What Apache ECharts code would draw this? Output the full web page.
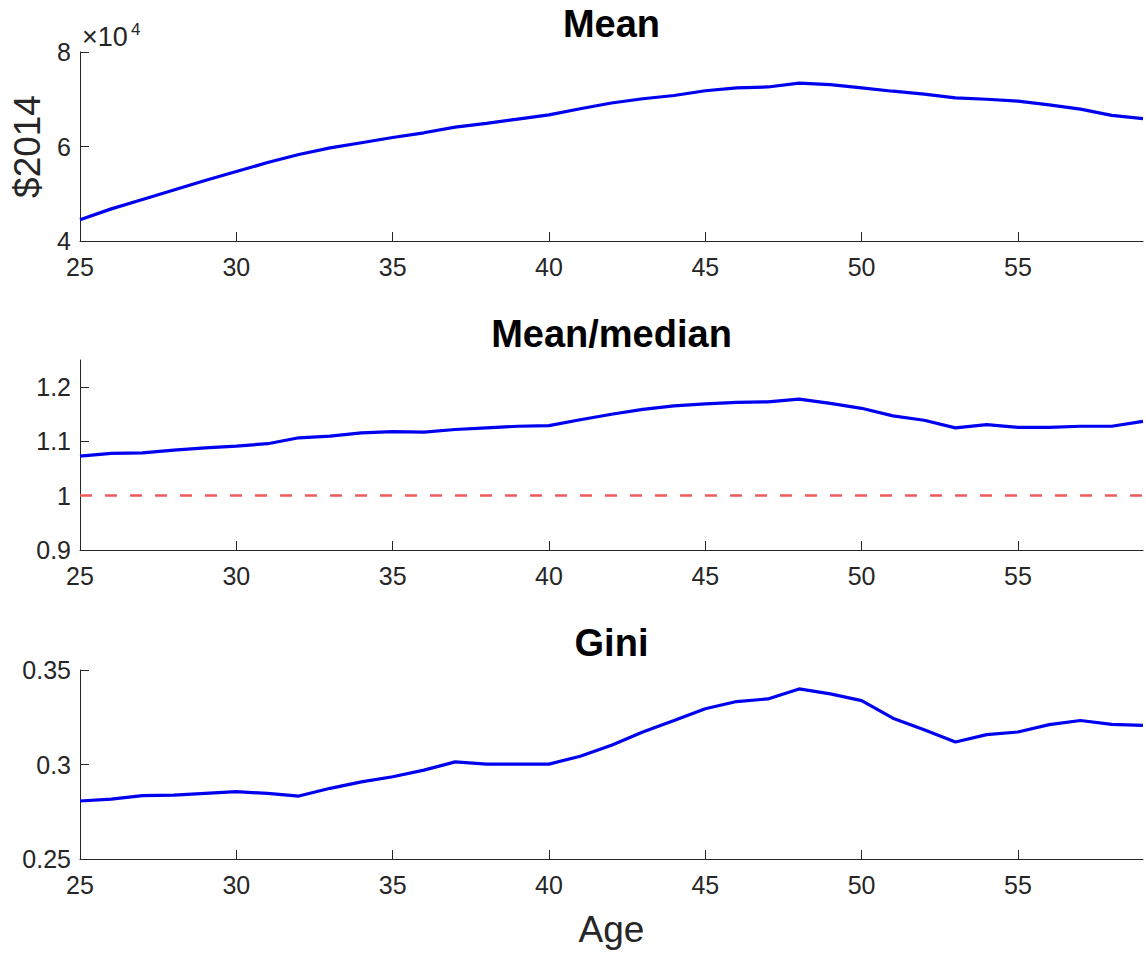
<!DOCTYPE html>
<html>
<head>
<meta charset="utf-8">
<script src="https://cdn.jsdelivr.net/npm/echarts@6/dist/echarts.min.js"></script>
<style>
html,body{margin:0;padding:0;background:#fff;}
#chart{width:1146px;height:953px;}
</style>
</head>
<body>
<div id="chart"></div>
<script>
// ---- data ----
const ages = [25,26,27,28,29,30,31,32,33,34,35,36,37,38,39,40,41,42,43,44,45,46,47,48,49,50,51,52,53,54,55,56,57,58,59];
const meanIncome = [44500,46800,48800,50800,52800,54700,56600,58300,59700,60800,61900,62900,64100,64900,65800,66700,68000,69200,70100,70800,71800,72400,72600,73400,73100,72400,71700,71100,70300,70000,69600,68800,67900,66600,65900];
const meanMedianRatio = [1.073,1.078,1.079,1.084,1.088,1.0915,1.0958,1.1067,1.1097,1.1158,1.118,1.117,1.122,1.125,1.128,1.129,1.140,1.150,1.159,1.1655,1.169,1.172,1.173,1.178,1.170,1.161,1.147,1.139,1.125,1.131,1.126,1.126,1.128,1.128,1.137];
const gini = [0.2807,0.2817,0.2835,0.2838,0.2847,0.2856,0.2847,0.2833,0.2874,0.2908,0.2935,0.2970,0.3014,0.3002,0.3002,0.3002,0.3044,0.3102,0.3172,0.3233,0.3295,0.3333,0.3347,0.3400,0.3374,0.3338,0.3245,0.3184,0.3119,0.3158,0.3172,0.3211,0.3233,0.3212,0.3207];
const ageTicks = [25,30,35,40,45,50,55];
const meanTicks = [40000,60000,80000];
const ratioTicks = [0.9,1,1.1,1.2];
const giniTicks = [0.25,0.3,0.35];
const ratioReference = 1;
const titles = ['Mean','Mean/median','Gini'];
const yLabelTop = '$2014';
const xLabel = 'Age';

// ---- chart ----
const FONT = '"Liberation Sans", Arial, Helvetica, sans-serif';
const AX = '#262626';
const BLUE = '#0000F0';
const chart = echarts.init(document.getElementById('chart'), null, {renderer:'svg'});

const grids = [
  {left:80, right:3, top:52, height:189},
  {left:80, right:3, top:360, height:190},
  {left:80, right:3, top:670, height:189}
];

function xAxisFor(i){
  return {
    type:'value', gridIndex:i, min:25, max:59,
    axisLine:{lineStyle:{color:AX,width:1}},
    axisTick:{inside:true,length:9,customValues:ageTicks,lineStyle:{color:AX}},
    axisLabel:{customValues:ageTicks,color:AX,fontSize:25,fontFamily:FONT,margin:13},
    splitLine:{show:false},
    name: i===2 ? xLabel : '',
    nameLocation:'middle', nameGap:52,
    nameTextStyle:{fontSize:37,color:AX,fontFamily:FONT}
  };
}
function yAxisFor(i,min,max,ticks,fmt,name){
  return {
    type:'value', gridIndex:i, min:min, max:max,
    axisLine:{show:true,lineStyle:{color:AX,width:1}},
    axisTick:{show:true,inside:true,length:9,customValues:ticks,lineStyle:{color:AX}},
    axisLabel:{customValues:ticks,color:AX,fontSize:25,fontFamily:FONT,margin:9,formatter:fmt},
    splitLine:{show:false},
    name:name||'', nameLocation:'middle', nameGap:34,
    nameTextStyle:{fontSize:37,color:AX,fontFamily:FONT}
  };
}

const titleCenters = [24, 334, 643];

const option = {
  backgroundColor:'#fff',
  animation:false,
  grid:grids,
  xAxis:[xAxisFor(0),xAxisFor(1),xAxisFor(2)],
  yAxis:[
    yAxisFor(0,40000,80000,meanTicks,v=>String(Math.round(v/10000)),yLabelTop),
    yAxisFor(1,0.9,1.25,ratioTicks,v=>String(+v.toFixed(2))),
    yAxisFor(2,0.25,0.35,giniTicks,v=>String(+v.toFixed(2)))
  ],
  graphic:[
    ...titles.map((t,i)=>({type:'text',x:611.5,y:titleCenters[i],style:{text:t,fontSize:38,fontWeight:'bold',fontFamily:FONT,fill:'#000',align:'center',verticalAlign:'middle'}})),
    {type:'text',x:82,y:37,style:{text:'×10',fontSize:27,fontFamily:FONT,fill:AX,align:'left',verticalAlign:'middle'}},
    {type:'text',x:131,y:29,style:{text:'4',fontSize:17,fontFamily:FONT,fill:AX,align:'left',verticalAlign:'middle'}}
  ],
  series:[
    {type:'line',xAxisIndex:0,yAxisIndex:0,data:ages.map((a,k)=>[a,meanIncome[k]]),showSymbol:false,lineStyle:{color:BLUE,width:3.2},itemStyle:{color:BLUE}},
    {type:'line',xAxisIndex:1,yAxisIndex:1,data:ages.map((a,k)=>[a,meanMedianRatio[k]]),showSymbol:false,lineStyle:{color:BLUE,width:3.2},itemStyle:{color:BLUE},
      markLine:{silent:true,symbol:['none','none'],label:{show:false},lineStyle:{color:'#F05A5A',width:2.5,type:[12,13]},data:[{yAxis:ratioReference}]}},
    {type:'line',xAxisIndex:2,yAxisIndex:2,data:ages.map((a,k)=>[a,gini[k]]),showSymbol:false,lineStyle:{color:BLUE,width:3.2},itemStyle:{color:BLUE}}
  ]
};
chart.setOption(option);
</script>
</body>
</html>
